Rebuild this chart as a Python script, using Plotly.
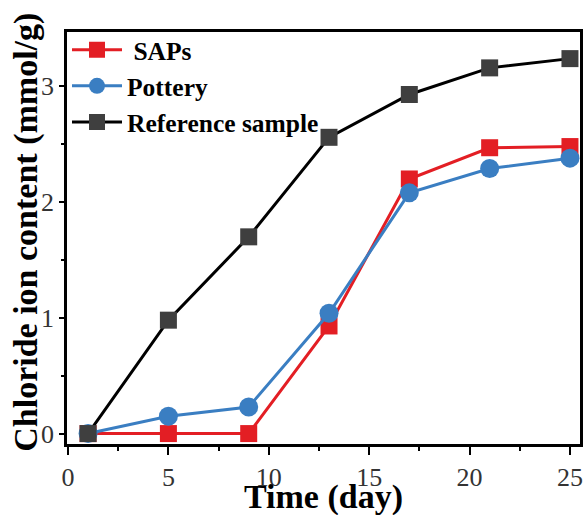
import plotly.graph_objects as go

days = [1, 5, 9, 13, 17, 21, 25]
saps = [0.0, 0.0, 0.0, 0.93, 2.20, 2.47, 2.48]
pottery = [0.0, 0.15, 0.23, 1.04, 2.08, 2.29, 2.38]
reference = [0.0, 0.98, 1.70, 2.56, 2.93, 3.16, 3.24]

x_ticks = [0, 5, 10, 15, 20, 25]
y_ticks = [0, 1, 2, 3]

fig = go.Figure()
fig.add_trace(go.Scatter(x=days, y=saps, name="\u00a0SAPs", mode="lines+markers",
                         line=dict(color="#E31E24", width=3),
                         marker=dict(symbol="square", size=17, color="#E31E24")))
fig.add_trace(go.Scatter(x=days, y=pottery, name="Pottery", mode="lines+markers",
                         line=dict(color="#3A7EC2", width=3),
                         marker=dict(symbol="circle", size=19, color="#3A7EC2")))
fig.add_trace(go.Scatter(x=days, y=reference, name="Reference sample", mode="lines+markers",
                         line=dict(color="#000000", width=3),
                         marker=dict(symbol="square", size=17, color="#3F3F3F")))

axis_common = dict(showline=True, linecolor="black", linewidth=2.5, mirror=True,
                   ticks="outside", tickwidth=2, tickcolor="black",
                   showgrid=False, zeroline=False, automargin=False,
                   tickfont=dict(family="Liberation Serif", size=26, color="#333"))

fig.update_layout(
    width=585, height=515,
    margin=dict(l=67, r=5, t=32, b=71),
    paper_bgcolor="white", plot_bgcolor="white",
    showlegend=True,
    legend=dict(x=0.0, y=1.013, xanchor="left", yanchor="top",
                bgcolor="rgba(0,0,0,0)",
                font=dict(family="Liberation Serif", size=25.5, color="black", weight="bold"),
                itemwidth=50, tracegroupgap=0),
    xaxis=dict(range=[-0.05, 25.5], tickvals=x_ticks, ticklen=8,
               minor=dict(ticks="outside", ticklen=4, tickwidth=2, tickcolor="black", dtick=2.5, tick0=0),
               **axis_common),
    yaxis=dict(range=[-0.09, 3.47], tickvals=y_ticks, ticklen=5,
               minor=dict(ticks="outside", ticklen=3, tickwidth=2, tickcolor="black", dtick=0.5, tick0=0),
               **axis_common),
    annotations=[
        dict(text="Time (day)", xref="paper", yref="paper", x=0.5, y=-0.128,
             xanchor="center", yanchor="middle", showarrow=False,
             font=dict(family="Liberation Serif", size=34, color="black", weight="bold")),
        dict(text="Chloride ion content (mmol/g)", xref="paper", yref="paper",
             x=-0.08, y=0.515, xanchor="center", yanchor="middle", textangle=-90,
             showarrow=False,
             font=dict(family="Liberation Serif", size=34, color="black", weight="bold")),
    ],
)

fig.write_html("out.html", config={"displayModeBar": False},
               post_script="document.body.style.margin='0px';")
